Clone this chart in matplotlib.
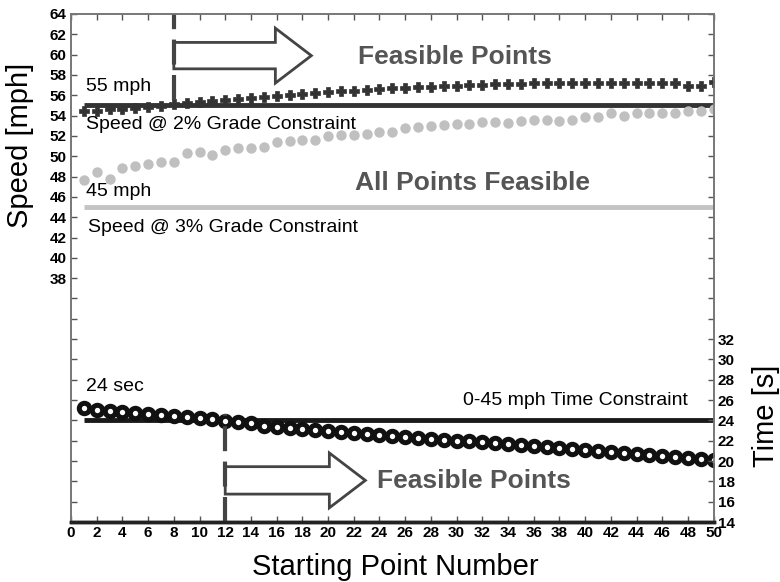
import matplotlib
matplotlib.use('Agg')
import matplotlib.pyplot as plt
from matplotlib.patches import FancyArrow

plt.rcParams['font.family'] = ['Liberation Sans', 'DejaVu Sans']

# data

points = list(range(1, 51))

speed_2pct = [54.5, 54.5, 54.6, 54.6, 54.7, 54.8, 54.9, 55.1, 55.2, 55.3,
              55.4, 55.5, 55.6, 55.7, 55.8, 55.9, 56.0, 56.1, 56.2, 56.3,
              56.4, 56.4, 56.5, 56.6, 56.7, 56.7, 56.8, 56.8, 56.9, 56.9,
              57.0, 57.0, 57.1, 57.1, 57.1, 57.2, 57.2, 57.2, 57.2, 57.2,
              57.2, 57.2, 57.2, 57.2, 57.2, 57.2, 57.2, 56.9, 56.9, 57.3]

speed_3pct = [47.7, 48.4, 47.8, 48.8, 49.0, 49.2, 49.4, 49.4, 50.3, 50.4,
              50.1, 50.6, 50.8, 50.8, 50.9, 51.4, 51.5, 51.6, 51.6, 52.0,
              52.1, 52.1, 52.2, 52.4, 52.4, 52.8, 52.9, 53.0, 53.1, 53.2,
              53.2, 53.4, 53.4, 53.3, 53.5, 53.6, 53.6, 53.5, 53.6, 53.9,
              53.9, 54.3, 54.0, 54.3, 54.3, 54.3, 54.3, 54.5, 54.5, 54.6]

time_0_45 = [25.2, 25.0, 24.9, 24.8, 24.7, 24.6, 24.5, 24.4, 24.3, 24.2,
             24.1, 23.9, 23.8, 23.7, 23.5, 23.4, 23.3, 23.2, 23.1, 23.0,
             22.9, 22.8, 22.7, 22.6, 22.5, 22.4, 22.3, 22.2, 22.1, 22.0,
             22.0, 21.9, 21.8, 21.7, 21.6, 21.5, 21.4, 21.3, 21.2, 21.1,
             21.0, 20.9, 20.8, 20.7, 20.6, 20.5, 20.4, 20.3, 20.2, 20.1]

speed_limit_2pct = 55
speed_limit_3pct = 45
time_limit = 24
first_feasible_speed = 8
first_feasible_time = 12

yticks = list(range(14, 65, 2))
left_labels = [str(t) if t >= 38 else '' for t in yticks]
right_labels = [str(t) if t <= 32 else '' for t in yticks]
xticks = list(range(0, 51, 2))

# plotting

fig = plt.figure(figsize=(7.8, 5.82), dpi=100)
ax = fig.add_axes([0.091, 0.103, 0.824, 0.873])
ax.set_xlim(0, 50)
ax.set_ylim(14, 64)

ax.hlines(speed_limit_2pct, 1, 50, color='#333333', lw=3.5, zorder=2)
ax.hlines(speed_limit_3pct, 1, 50, color='#c4c4c4', lw=3.5, zorder=2)
ax.hlines(time_limit, 1, 50, color='#1a1a1a', lw=3.5, zorder=2)

ax.plot(points, speed_3pct, 'o', color='#c0c0c0', ms=7.5, mec='none', zorder=3)
ax.plot(points, speed_2pct, 'P', color='#333333', ms=6.5, mec='#333333',
        mew=0.5, zorder=3)
ax.plot(points, time_0_45, 'o', mfc='white', mec='#111111', ms=7.5, mew=3.6, zorder=3)

ax.vlines(first_feasible_speed, 55.5, 64, color='#444444', lw=3,
          linestyles=(0, (6, 2.5)), zorder=6)
ax.vlines(first_feasible_time, 14, 24.6, color='#444444', lw=3,
          linestyles=(0, (6, 2.5)), zorder=6)

ax.add_patch(FancyArrow(first_feasible_speed, 59.9, 10.7, 0, width=2.6,
                        head_width=5.4, head_length=2.8, length_includes_head=True,
                        fc='white', ec='#444444', lw=2, zorder=5))
ax.add_patch(FancyArrow(first_feasible_time, 18.1, 10.9, 0, width=2.7,
                        head_width=5.4, head_length=2.8, length_includes_head=True,
                        fc='white', ec='#444444', lw=2, zorder=5))

ax.text(22.3, 59.8, 'Feasible Points', fontsize=19, fontweight='bold',
        color='#555555', va='center')
ax.text(23.8, 18.0, 'Feasible Points', fontsize=19, fontweight='bold',
        color='#555555', va='center')
ax.text(22.1, 47.4, 'All Points Feasible', fontsize=19, fontweight='bold',
        color='#555555', va='center')

ax.text(1.15, 56.9, '55 mph', fontsize=14, va='center')
ax.text(1.2, 53.1, 'Speed @ 2% Grade Constraint', fontsize=14, va='center')
ax.text(1.15, 46.5, '45 mph', fontsize=14, va='center')
ax.text(1.3, 43.0, 'Speed @ 3% Grade Constraint', fontsize=14, va='center')
ax.text(1.15, 27.3, '24 sec', fontsize=14, va='center')
ax.text(48.0, 26.0, '0-45 mph Time Constraint', fontsize=14, va='center', ha='right')

ax.set_xticks(xticks)
ax.set_yticks(yticks)
ax.set_yticklabels(left_labels)
ax.tick_params(axis='both', direction='in', length=4, width=1, color='#555555',
               labelsize=11, pad=3, top=True)
for lab in ax.get_xticklabels() + ax.get_yticklabels():
    lab.set_fontweight('bold')

ax2 = ax.twinx()
ax2.set_ylim(14, 64)
ax2.set_yticks(yticks)
ax2.set_yticklabels(right_labels)
ax2.tick_params(axis='y', direction='in', length=4, width=1, color='#555555',
                labelsize=11, pad=3)
for lab in ax2.get_yticklabels():
    lab.set_fontweight('bold')

for a in (ax, ax2):
    for side in ('left', 'right', 'top'):
        a.spines[side].set_color('#777777')
        a.spines[side].set_linewidth(1.2)
    a.spines['bottom'].set_color('#222222')
    a.spines['bottom'].set_linewidth(2.5)

ax.set_xlabel('Starting Point Number', fontsize=21)
ax.xaxis.set_label_coords(0.504, -0.06)
ax.set_ylabel('Speed [mph]', fontsize=21)
ax.yaxis.set_label_coords(-0.058, 0.742)
ax2.set_ylabel('Time [s]', fontsize=21)
ax2.yaxis.set_label_coords(1.06, 0.21)

plt.savefig('out.png', dpi=100)
